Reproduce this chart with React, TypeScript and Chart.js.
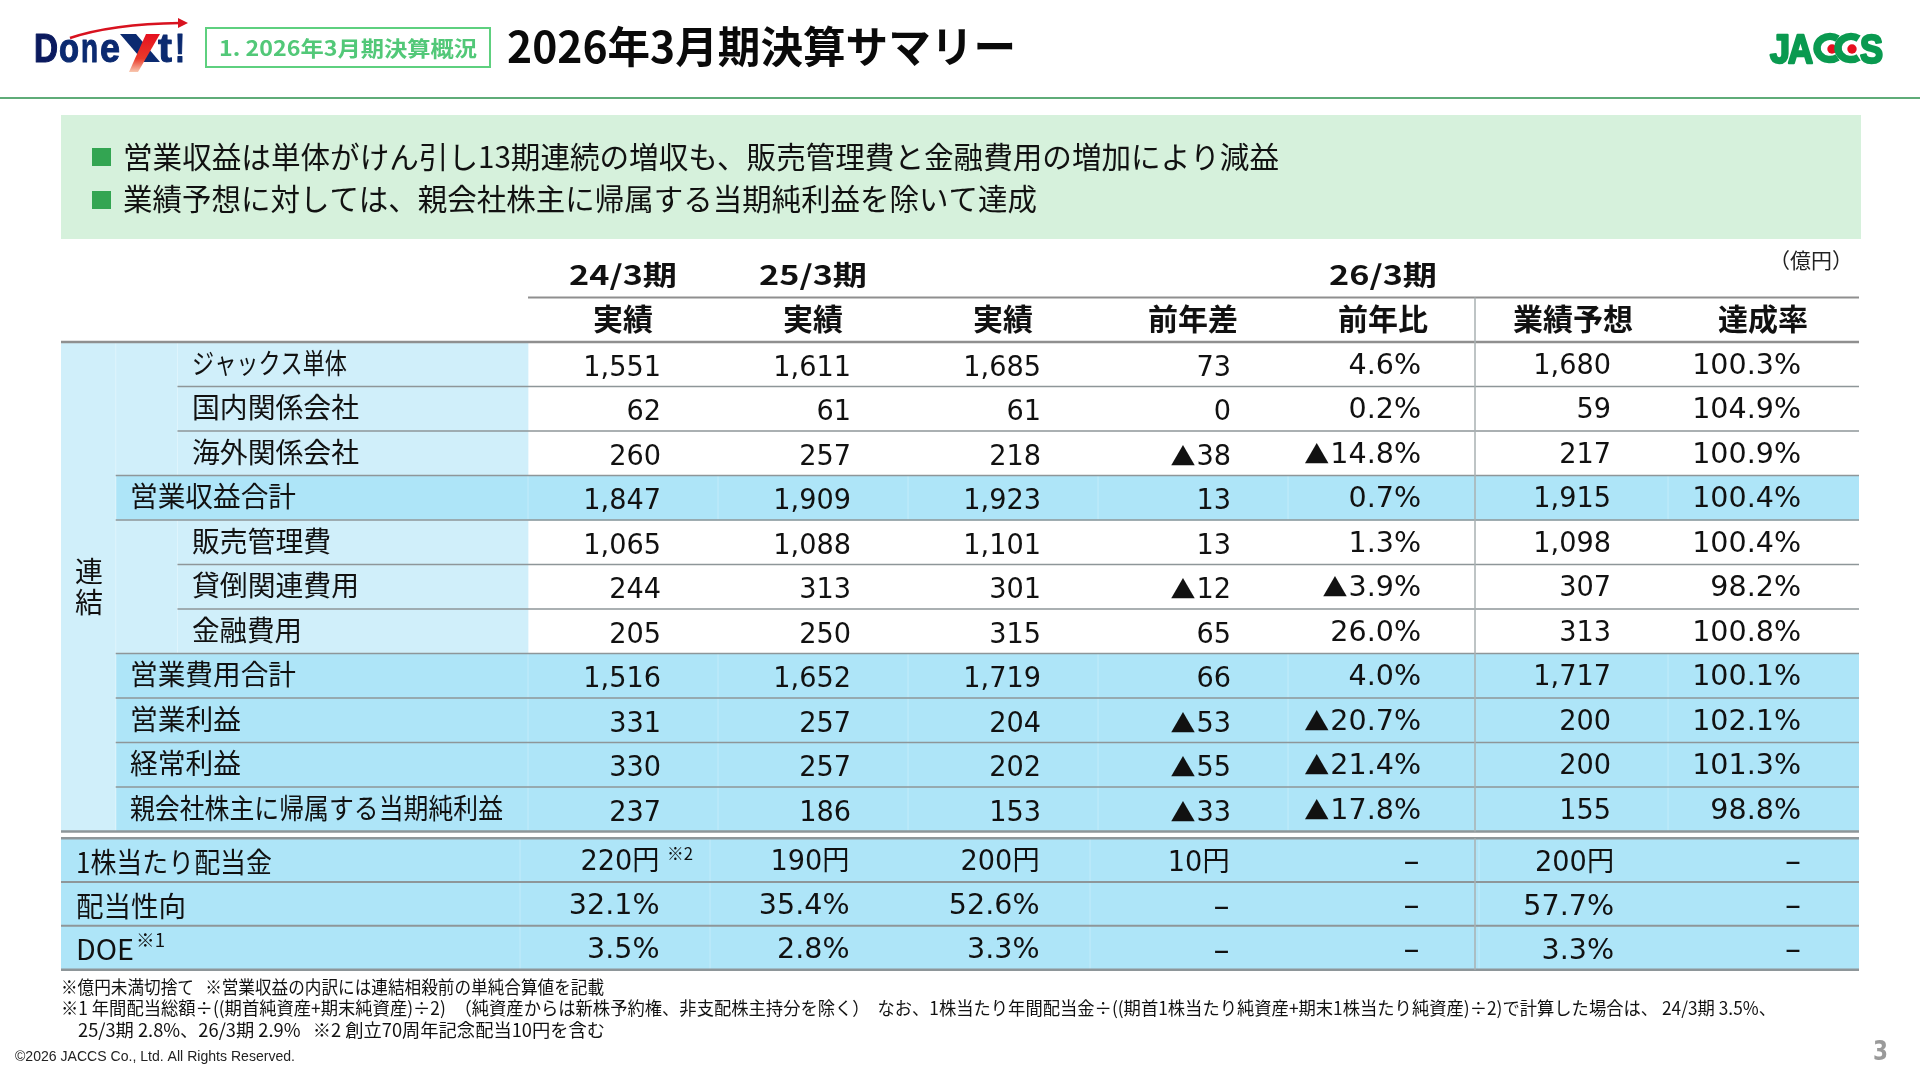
import React, { useEffect, useRef } from "react";
import { Chart, registerables } from "chart.js";

Chart.register(...registerables);

// ---------- data ----------
const rowLabels = ["ジャックス単体", "国内関係会社", "海外関係会社", "営業収益合計", "販売管理費", "貸倒関連費用", "金融費用", "営業費用合計", "営業利益", "経常利益", "親会社株主に帰属する当期純利益", "1株当たり配当金", "配当性向", "DOE"];
const periodHeads = ["24/3期", "25/3期", "26/3期"];
const columnHeads = ["実績", "実績", "実績", "前年差", "前年比", "業績予想", "達成率"];
const actual24 = ["1,551", "62", "260", "1,847", "1,065", "244", "205", "1,516", "331", "330", "237", "220円", "32.1%", "3.5%"];
const actual25 = ["1,611", "61", "257", "1,909", "1,088", "313", "250", "1,652", "257", "257", "186", "190円", "35.4%", "2.8%"];
const actual26 = ["1,685", "61", "218", "1,923", "1,101", "301", "315", "1,719", "204", "202", "153", "200円", "52.6%", "3.3%"];
const yoyDiff = ["73", "0", "▲38", "13", "13", "▲12", "65", "66", "▲53", "▲55", "▲33", "10円", "–", "–"];
const yoyRatio = ["4.6%", "0.2%", "▲14.8%", "0.7%", "1.3%", "▲3.9%", "26.0%", "4.0%", "▲20.7%", "▲21.4%", "▲17.8%", "–", "–", "–"];
const forecast = ["1,680", "59", "217", "1,915", "1,098", "307", "313", "1,717", "200", "200", "155", "200円", "57.7%", "3.3%"];
const achievement = ["100.3%", "104.9%", "100.9%", "100.4%", "100.4%", "98.2%", "100.8%", "100.1%", "102.1%", "101.3%", "98.8%", "–", "–", "–"];
const valueColumns = [actual24, actual25, actual26, yoyDiff, yoyRatio, forecast, achievement];
const totalRows = [3, 7, 8, 9, 10];
const lowerRows = [11, 12, 13];
const bullets = ["営業収益は単体がけん引し13期連続の増収も、販売管理費と金融費用の増加により減益", "業績予想に対しては、親会社株主に帰属する当期純利益を除いて達成"];
const footnotes = ["※億円未満切捨て   ※営業収益の内訳には連結相殺前の単純合算値を記載", "※1 年間配当総額÷((期首純資産+期末純資産)÷2)　（純資産からは新株予約権、非支配株主持分を除く）  なお、1株当たり年間配当金÷((期首1株当たり純資産+期末1株当たり純資産)÷2)で計算した場合は、 24/3期 3.5%、", "25/3期 2.8%、26/3期 2.9%   ※2 創立70周年記念配当10円を含む"];

// ---------- layout (styles only) ----------
const labelWidths = [155, 167, 167, 166, 139, 167, 110, 166, 111, 111, 373, 196, 110, 58];
const JP = '"Noto Sans CJK JP"';
const NUM = '"DejaVu Sans","Noto Sans CJK JP"';
const LIGHT = "#d0effa";
const DARK = "#aee5f8";
const RULE = "#8e9699";
const LEFT_EDGE = -2.458;
const SUB_EDGE = -2.17;
const RIGHT_EDGE = 7.005;
const LOWER_START = 11.15;
const LOWER_STEP = 0.985;
const rowCenter = (r: number) => (r < 11 ? r + 0.5 : LOWER_START + (r - 11 + 0.5) * LOWER_STEP);
const rowTop = (r: number) => (r < 11 ? r : LOWER_START + (r - 11) * LOWER_STEP);

const lightBand = rowLabels.slice(0, 11).map((_, r) => ({ x: [LEFT_EDGE, totalRows.includes(r) ? SUB_EDGE : 0], y: rowCenter(r) }));
const darkBand = [
  ...totalRows.map((r) => ({ x: [SUB_EDGE, RIGHT_EDGE], y: rowCenter(r) })),
  ...lowerRows.map((r) => ({ x: [LEFT_EDGE, RIGHT_EDGE], y: rowCenter(r) })),
];

function text(ctx: CanvasRenderingContext2D, s: string, x: number, y: number, font: string, color = "#111", align: CanvasTextAlign = "left", width?: number) {
  ctx.font = font;
  ctx.fillStyle = color;
  ctx.textAlign = align;
  ctx.textBaseline = "middle";
  if (width) {
    const natural = ctx.measureText(s).width;
    ctx.save();
    const k = width / natural;
    ctx.translate(x, y);
    ctx.scale(k, 1);
    ctx.fillText(s, 0, 0);
    ctx.restore();
  } else ctx.fillText(s, x, y);
}

function hline(ctx: CanvasRenderingContext2D, x0: number, x1: number, y: number, color: string, w: number) {
  ctx.strokeStyle = color;
  ctx.lineWidth = w;
  ctx.beginPath();
  ctx.moveTo(x0, y);
  ctx.lineTo(x1, y);
  ctx.stroke();
}
function vline(ctx: CanvasRenderingContext2D, x: number, y0: number, y1: number, color: string, w: number) {
  ctx.strokeStyle = color;
  ctx.lineWidth = w;
  ctx.beginPath();
  ctx.moveTo(x, y0);
  ctx.lineTo(x, y1);
  ctx.stroke();
}
function poly(ctx: CanvasRenderingContext2D, pts: number[][], fill: string | CanvasGradient) {
  ctx.fillStyle = fill;
  ctx.beginPath();
  pts.forEach(([x, y], i) => (i ? ctx.lineTo(x, y) : ctx.moveTo(x, y)));
  ctx.closePath();
  ctx.fill();
}
function heavy(ctx: CanvasRenderingContext2D, s: string, x: number, base: number, size: number, width: number, color: string, grow: number) {
  ctx.save();
  ctx.font = `bold ${size}px "Liberation Sans"`;
  ctx.textAlign = "left";
  ctx.textBaseline = "alphabetic";
  const k = width / ctx.measureText(s).width;
  ctx.translate(x, base);
  ctx.scale(k, 1);
  ctx.fillStyle = color;
  ctx.strokeStyle = color;
  ctx.lineWidth = grow;
  ctx.lineJoin = "round";
  ctx.fillText(s, 0, 0);
  ctx.strokeText(s, 0, 0);
  ctx.restore();
}
function cellValue(ctx: CanvasRenderingContext2D, v: string, x: number, y: number) {
  if (v === "–") {
    text(ctx, v, x, y + 1, `500 32px ${NUM}`, "#111", "right");
    return;
  }
  const tri = v.startsWith("▲");
  const body = tri ? v.slice(1) : v;
  const font = `28px ${NUM}`;
  ctx.font = font;
  const w = ctx.measureText(body).width * (body.endsWith("%") ? 1.02 : 0.97);
  text(ctx, body, x, y, font, "#111", "right", w);
  if (tri) text(ctx, "▲", x - w - 1, y - 1, `25px ${JP}`, "#111", "right");
}

const slidePlugin = {
  id: "slide",
  beforeDatasetsDraw(chart: any) {
    const ctx = chart.ctx as CanvasRenderingContext2D;
    ctx.save();
    ctx.fillStyle = "#ffffff";
    ctx.fillRect(0, 0, 1920, 1080);
    // header
    hline(ctx, 0, 1920, 98, "#5fac78", 2);
    ctx.strokeStyle = "#5ed07f";
    ctx.lineWidth = 2;
    ctx.strokeRect(206, 28, 284, 39);
    text(ctx, "1. 2026年3月期決算概況", 219, 48, `bold 21px ${JP}`, "#52c878", "left", 258);
    text(ctx, "2026年3月期決算サマリー", 507, 47, `bold 43px ${JP}`, "#0a0a0a", "left", 509);
    // Donext logo
    heavy(ctx, "D", 34, 62, 40, 24, "#0b1a5e", 1.2);
    heavy(ctx, "o", 59, 62, 40, 20, "#0b2a70", 1.2);
    heavy(ctx, "n", 81, 62, 40, 17, "#0b2a70", 1);
    heavy(ctx, "e", 100, 62, 40, 20, "#0b2a70", 1);
    poly(ctx, [[120, 34], [136, 34], [160, 62], [144, 62]], "#0b2a70");
    const fade = ctx.createLinearGradient(0, 34, 0, 72);
    fade.addColorStop(0, "#e5101f");
    fade.addColorStop(0.65, "#ea3a2a");
    fade.addColorStop(1, "#f8c8b0");
    poly(ctx, [[146, 34], [160, 34], [138, 72], [129, 72]], fade);
    heavy(ctx, "t", 158, 62, 40, 14, "#0b2a70", 1);
    heavy(ctx, "!", 175, 62, 40, 10, "#0b2a70", 1);
    ctx.strokeStyle = "#d8121f";
    ctx.lineWidth = 2.5;
    ctx.beginPath();
    ctx.moveTo(70, 38);
    ctx.quadraticCurveTo(112, 24, 180, 23);
    ctx.stroke();
    poly(ctx, [[188, 23], [178, 18], [178, 28]], "#d8121f");
    // JACCS logo
    const jg = "#0a9a50";
    heavy(ctx, "J", 1770, 63, 41, 20, jg, 2.5);
    heavy(ctx, "A", 1788, 63, 41, 25, jg, 2.5);
    heavy(ctx, "S", 1860, 63, 41, 23, jg, 2.5);
    [1830, 1851].forEach((x, i) => {
      ctx.strokeStyle = jg;
      ctx.lineWidth = 7.5;
      ctx.beginPath();
      ctx.ellipse(x, 48, 13, 11.5, 0, 0.3 * Math.PI, 1.7 * Math.PI);
      ctx.stroke();
      ctx.fillStyle = "#e60f1e";
      ctx.beginPath();
      ctx.arc(i ? 1852 : 1832, 49, 4.7, 0, Math.PI * 2);
      ctx.fill();
    });
    // summary box
    ctx.fillStyle = "#d6f1dc";
    ctx.fillRect(61, 115, 1800, 124);
    ctx.fillStyle = "#33a552";
    ctx.fillRect(92, 148, 19, 18);
    ctx.fillRect(92, 191, 19, 18);
    text(ctx, bullets[0], 123, 157, `30px ${JP}`, "#111", "left", 1156);
    text(ctx, bullets[1], 123, 199, `30px ${JP}`, "#111", "left", 914);
    ctx.restore();
  },
  afterDatasetsDraw(chart: any) {
    const ctx = chart.ctx as CanvasRenderingContext2D;
    const xs = chart.scales.x;
    const ys = chart.scales.y;
    const X = (v: number) => xs.getPixelForValue(v);
    const Y = (v: number) => ys.getPixelForValue(v);
    ctx.save();
    const L = X(LEFT_EDGE);
    const S = X(SUB_EDGE);
    const R = X(RIGHT_EDGE);
    const I = 177.5;

    // faint column separators in the bands
    [...totalRows, ...lowerRows].forEach((r) => {
      const lower = lowerRows.includes(r);
      const top = Y(rowTop(r));
      const bot = Y(rowTop(r) + (lower ? LOWER_STEP : 1));
      (lower ? [-0.042, 0.958, 2.958, 5.005] : [0, 1, 2, 3, 4, 6]).forEach((c) => vline(ctx, X(c), top, bot, "#c3ecfa", 1));
    });
    vline(ctx, S, Y(0), Y(11), "#def4fc", 1);
    [0, 1, 2, 4, 5, 6].forEach((r) => vline(ctx, I, Y(r), Y(r + 1), "#def4fc", 1));

    // column heads
    hline(ctx, X(0), R, Y(-1), "#8f8f8f", 2);
    hline(ctx, L, R, Y(0), "#8f8f8f", 2.5);
    [0.5, 1.5].forEach((c, i) => text(ctx, periodHeads[i], X(c), 275, `bold 27px ${JP}`, "#111", "center", 108));
    text(ctx, periodHeads[2], X(4.5), 275, `bold 27px ${JP}`, "#111", "center", 108);
    columnHeads.forEach((h, c) => text(ctx, h, X(c + 0.5), Y(-0.5) - 1, `bold 30px ${JP}`, "#111", "center"));
    text(ctx, "（億円）", 1811, 260, `21px ${JP}`, "#222", "center", 84);

    // row rules
    [1, 2, 5, 6].forEach((r) => hline(ctx, I, R, Y(r), RULE, 1.5));
    [3, 4, 7, 8, 9, 10].forEach((r) => hline(ctx, S, R, Y(r), RULE, 1.5));
    hline(ctx, L, R, Y(11), RULE, 2.5);
    hline(ctx, L, R, Y(rowTop(11)), RULE, 2.5);
    hline(ctx, L, R, Y(rowTop(12)), RULE, 2);
    hline(ctx, L, R, Y(rowTop(13)), RULE, 2);
    hline(ctx, L, R, Y(rowTop(13) + LOWER_STEP), RULE, 2.5);
    vline(ctx, X(4.984), Y(-1), Y(11), "#a9b0b2", 1.5);
    vline(ctx, X(4.984), Y(rowTop(11)), Y(rowTop(13) + LOWER_STEP), "#a9b0b2", 1.5);

    // row labels
    text(ctx, "連", 89, 571, `28px ${JP}`, "#111", "center");
    text(ctx, "結", 89, 602, `28px ${JP}`, "#111", "center");
    rowLabels.forEach((label, r) => {
      const lower = lowerRows.includes(r);
      const total = totalRows.includes(r);
      const x = lower ? 76 : total ? 130 : 192;
      text(ctx, label, x, Y(rowCenter(r)) + (lower ? 2 : -1), `28px ${JP}`, "#111", "left", labelWidths[r]);
    });
    text(ctx, "※1", 136, 940, `18px ${JP}`, "#111", "left", 29);

    // values: every cell placed through the scales
    valueColumns.forEach((col, c) => {
      col.forEach((v, r) => {
        const lower = lowerRows.includes(r);
        const dx = lower && c <= 4 ? -1.5 : lower && c === 5 ? 3 : 0;
        const dy = lower ? (c === 3 || c === 5 ? 4 : 3) : c <= 3 ? 4 : 2;
        cellValue(ctx, v, X(c + 0.7) + dx, Y(rowCenter(r)) + dy);
      });
    });
    text(ctx, "※2", 667, 854, `17px ${JP}`, "#111", "left", 26);

    // footnotes
    text(ctx, footnotes[0], 61, 987, `18px ${JP}`, "#111", "left", 543);
    text(ctx, footnotes[1], 61, 1008, `18px ${JP}`, "#111", "left", 1715);
    text(ctx, footnotes[2], 78, 1030, `18px ${JP}`, "#111", "left", 527);
    text(ctx, "©2026 JACCS Co., Ltd. All Rights Reserved.", 15, 1057, `15px "Liberation Sans"`, "#222", "left", 280);
    text(ctx, "3", 1873, 1053, `bold 26px ${NUM}`, "#9a9a9a", "left", 15);
    ctx.restore();
  },
};

export default function App() {
  const ref = useRef<HTMLCanvasElement>(null);
  useEffect(() => {
    if (!ref.current) return;
    const chart = new Chart(ref.current, {
      type: "bar",
      data: {
        datasets: [
          { label: "detail", data: lightBand as any, backgroundColor: LIGHT, borderWidth: 0, barThickness: 45, grouped: false } as any,
          { label: "total", data: darkBand as any, backgroundColor: DARK, borderWidth: 0, barThickness: 45, grouped: false } as any,
        ],
      },
      options: {
        indexAxis: "y",
        responsive: false,
        animation: false,
        devicePixelRatio: 1,
        layout: { padding: { left: 61, right: 61, top: 253, bottom: 111 } },
        plugins: { legend: { display: false }, tooltip: { enabled: false }, title: { display: false } },
        scales: {
          x: { type: "linear", min: LEFT_EDGE, max: RIGHT_EDGE, offset: false, display: false, grid: { display: false } },
          y: { type: "linear", min: -2, max: 14.09, reverse: true, offset: false, display: false, grid: { display: false } },
        },
      },
      plugins: [slidePlugin],
    } as any);
    return () => chart.destroy();
  }, []);
  return (
    <div style={{ position: "absolute", left: 0, top: 0, width: 1920, height: 1080, background: "#fff" }}>
      <canvas ref={ref} width={1920} height={1080} style={{ display: "block", width: 1920, height: 1080 }} />
    </div>
  );
}
